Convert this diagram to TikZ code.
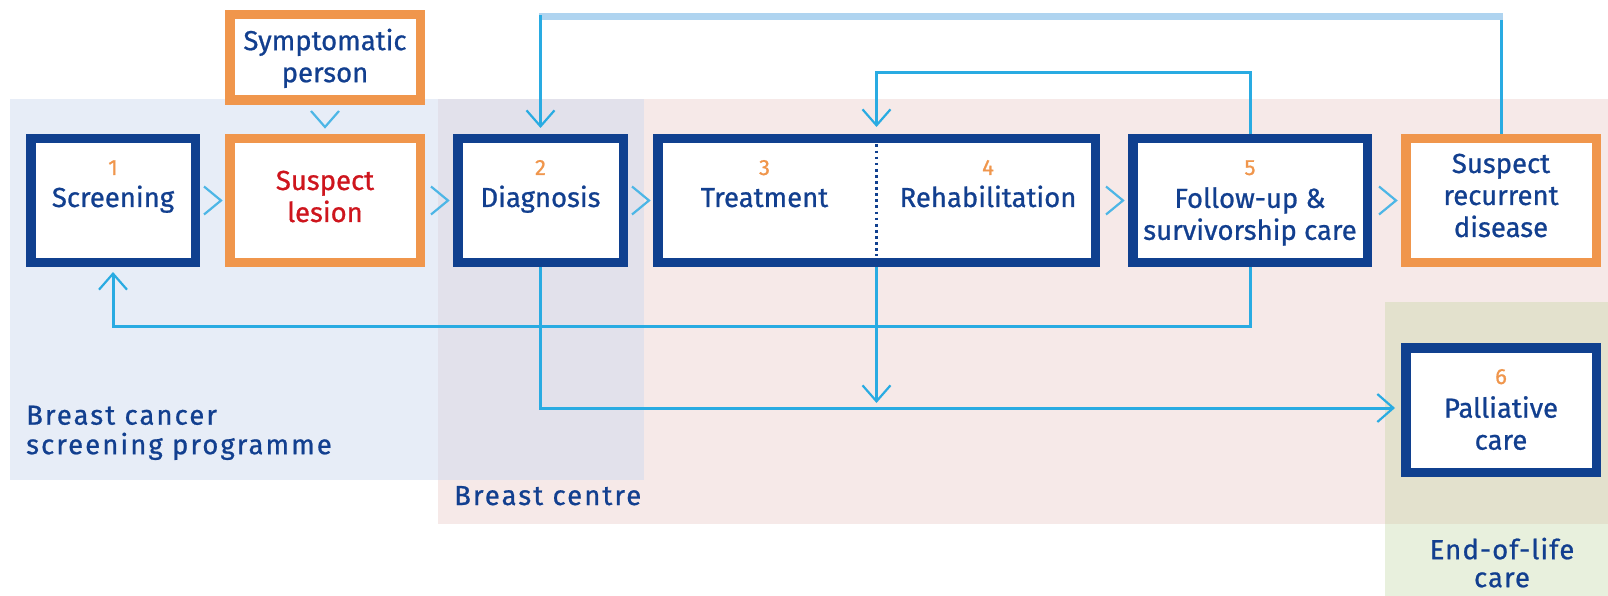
\documentclass[tikz,border=0pt]{standalone}
\usepackage{fontspec}
\setmainfont[FakeBold=0.8]{Fira Sans}
\newfontfamily\labfont[LetterSpace=7.5,FakeBold=0.8]{Fira Sans}
\newfontfamily\eolfont[LetterSpace=4,FakeBold=0.8]{Fira Sans}
\usetikzlibrary{arrows.meta,calc}
\definecolor{dblue}{HTML}{10408F}
\definecolor{tblue}{HTML}{123F8F}
\definecolor{orng}{HTML}{F0964C}
\definecolor{rtext}{HTML}{CE151D}
\definecolor{lnblue}{HTML}{29ABE2}
\definecolor{chblue}{HTML}{4DB6E6}
\definecolor{ltblue}{HTML}{AFD4F0}
\definecolor{bluebg}{HTML}{E7EDF7}
\definecolor{ovbg}{HTML}{E2E1EB}
\definecolor{pinkbg}{HTML}{F6E9E8}
\definecolor{greenbg}{HTML}{E8F0DD}
\definecolor{gpbg}{HTML}{E3E1CD}
\tikzset{
  box/.style 2 args={draw=dblue, fill=white, line width=9.5pt, inner sep=0pt,
    minimum width={#1-9.5}, minimum height={#2-9.5}},
  obox/.style 2 args={box={#1}{#2}, draw=orng},
  txt/.style={text=tblue, inner sep=0pt, align=center,
    font=\fontsize{27.5}{32}\selectfont},
  rtxt/.style={txt, text=rtext},
  num/.style={text=orng, inner sep=0pt, font=\fontsize{22}{26}\selectfont},
  lab/.style={text=tblue, inner sep=0pt, align=left,
    font=\labfont\fontsize{27.5}{29.5}\selectfont},
  conn/.style={draw=lnblue, line width=3pt},
  barb/.style={-{Straight Barb[length=16pt,width=28pt,line width=2.2pt]}},
  chev/.style={draw=chblue, line width=2.2pt},
  topline/.style={draw=ltblue, line width=6.5pt},
  divider/.style={draw=dblue, line width=2.6pt, dash pattern=on 2.7pt off 3.4pt}
}
\begin{document}
\begin{tikzpicture}[x=1pt,y=-1pt]
\useasboundingbox (0,0) rectangle (1608,596);
\fill[white] (0,0) rectangle (1608,596);
% background regions
\fill[pinkbg] (438,99) rectangle (1608,524);
\fill[bluebg] (10,99) rectangle (438,480);
\fill[ovbg] (438,99) rectangle (644,480);
\fill[greenbg] (1385,302) rectangle (1608,596);
\fill[gpbg] (1385,302) rectangle (1608,524);

% helper levels
\coordinate (ytop) at (0,16.7);
\coordinate (ymid) at (0,72.5);
\coordinate (ybot) at (0,326);
\coordinate (ypal) at (0,408);

% boxes
\node[obox={200}{95}] (symp) at (325,57.5) {};
\node[box={174}{133}] (screen) at (113,200.5) {};
\node[obox={200}{133}] (lesion) at (325,200.5) {};
\node[box={175}{133}] (diag) at (540.5,200.5) {};
\node[box={447}{133}] (treat) at (876.5,200.5) {};
\node[box={244}{133}] (follow) at (1250,200.5) {};
\node[obox={200}{133}] (recur) at (1501,200.5) {};
\node[box={200}{134}] (pall) at (1501,410) {};

\draw[divider] ($(treat.north)+(0,10.5)$) -- ($(treat.south)+(0,-11)$);

% connectors
\draw[conn] (recur.north) -- (recur.north |- ytop);
\draw[topline] ($(recur.north |- ytop)+(1.5,0)$) -- ($(diag.north |- ytop)+(-1.5,0)$);
\draw[conn,barb] ($(diag.north |- ytop)+(0,-1.5)$) -- ($(diag.north)+(0,-6)$);
\draw[conn,barb] (follow.north) -- (follow.north |- ymid) -- (treat.north |- ymid) -- ($(treat.north)+(0,-7)$);
\draw[conn,barb] (follow.south) -- (follow.south |- ybot) -- (screen.south |- ybot) -- ($(screen.south)+(0,5)$);
\draw[conn,barb] (diag.south) -- (diag.south |- ypal) -- ($(pall.west |- ypal)+(-6,0)$);
\draw[conn,barb] (treat.south) -- ($(treat.south |- ypal)+(0,-5)$);

% chevrons between boxes
\draw[chev] ($(lesion.west)+(-21,-14)$) -- ($(lesion.west)+(-4,0)$) -- ($(lesion.west)+(-21,14)$);
\draw[chev] ($(diag.west)+(-22,-14)$) -- ($(diag.west)+(-5,0)$) -- ($(diag.west)+(-22,14)$);
\draw[chev] ($(treat.west)+(-21,-14)$) -- ($(treat.west)+(-4,0)$) -- ($(treat.west)+(-21,14)$);
\draw[chev] ($(follow.west)+(-22,-14)$) -- ($(follow.west)+(-5,0)$) -- ($(follow.west)+(-22,14)$);
\draw[chev] ($(recur.west)+(-22,-14)$) -- ($(recur.west)+(-5,0)$) -- ($(recur.west)+(-22,14)$);
\draw[chev] ($(lesion.north)+(-14,-23)$) -- ($(lesion.north)+(0,-7)$) -- ($(lesion.north)+(14,-23)$);

% texts
\node[txt, anchor=north] (sympt) at (325,28.5) {Symptomatic\\person};
\node[num, anchor=base] (n1) at (113,175) {1};
\node[txt, anchor=base] (screent) at (113,207) {Screening};
\node[rtxt, anchor=north] (lesiont) at (325,170.5) {Suspect\\lesion};
\node[num, anchor=base] (n2) at (540.5,175) {2};
\node[txt, anchor=base] (diagt) at (540.5,207) {Diagnosis};
\node[num, anchor=base] (n3) at (764.5,175) {3};
\node[txt, anchor=base] (treatt) at (764.5,207) {Treatment};
\node[num, anchor=base] (n4) at (988,175) {4};
\node[txt, anchor=base] (rehabt) at (988,207) {Rehabilitation};
\node[num, anchor=base] (n5) at (1250,175) {5};
\node[txt, anchor=north] (followt) at (1250,187) {Follow-up \&\\survivorship care};
\node[txt, anchor=north] (recurt) at (1501,153.5) {Suspect\\recurrent\\disease};
\node[num, anchor=base] (n6) at (1501,384) {6};
\node[txt, anchor=north] (pallt) at (1501,396) {Palliative\\care};

% region labels
\node[lab, anchor=north west] (labscreen) at (26,405.5) {Breast cancer\\screening programme};
\node[lab, anchor=base west] (labcentre) at (454,505) {Breast centre};
\node[txt, anchor=north, font=\eolfont\fontsize{27.5}{28}\selectfont] (labeol) at (1502,537.5) {End-of-life\\care};
\end{tikzpicture}
\end{document}
